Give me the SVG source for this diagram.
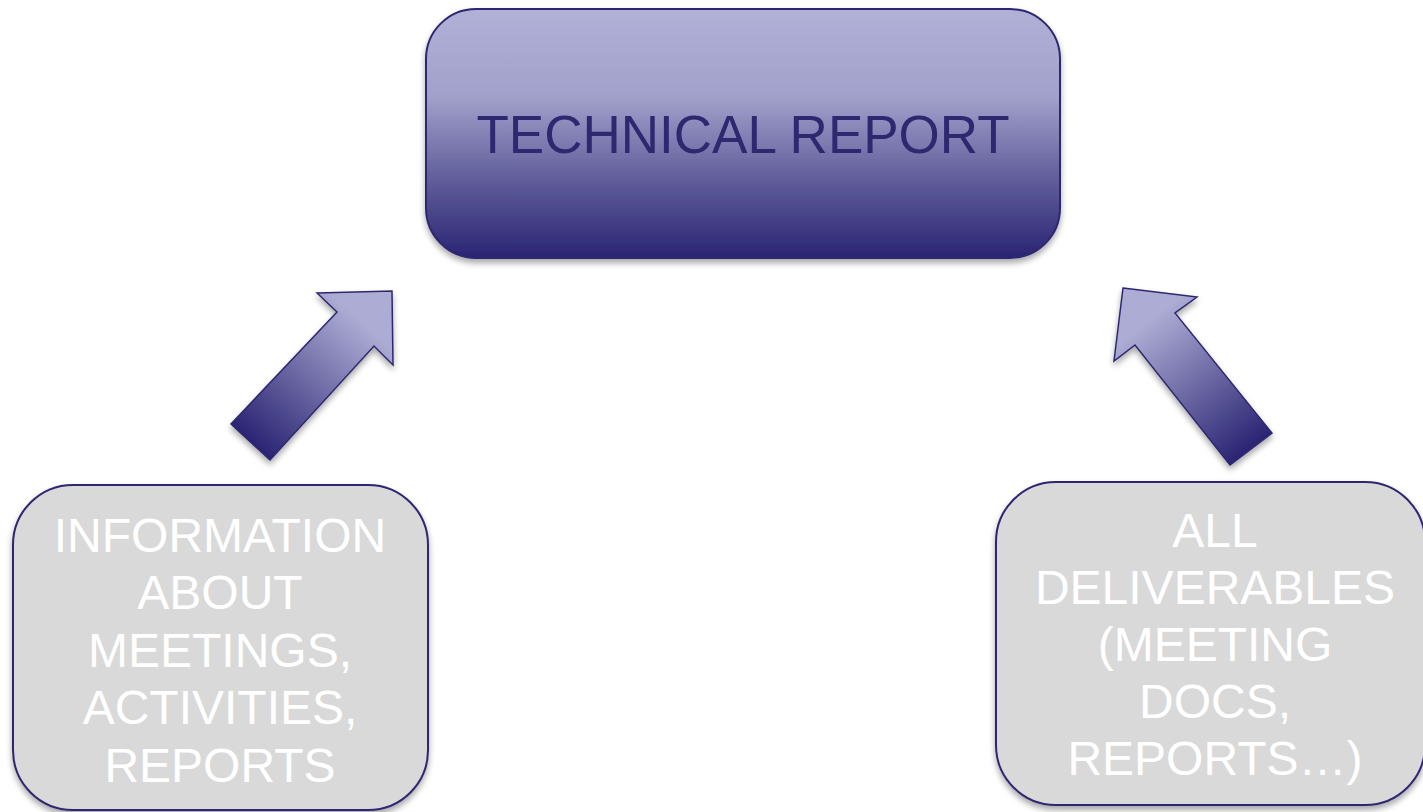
<svg xmlns="http://www.w3.org/2000/svg" width="1423" height="812" viewBox="0 0 1423 812">
<defs>
<linearGradient id="gTop" x1="0" y1="0" x2="0" y2="1">
<stop offset="0" stop-color="#b1b0d7"/>
<stop offset="0.35" stop-color="#a2a1cb"/>
<stop offset="0.65" stop-color="#67649f"/>
<stop offset="1" stop-color="#2a2473"/>
</linearGradient>
<linearGradient id="gArrL" gradientUnits="userSpaceOnUse" x1="250" y1="442" x2="360" y2="320">
<stop offset="0" stop-color="#2a2473"/>
<stop offset="1" stop-color="#adacd4"/>
</linearGradient>
<linearGradient id="gArrR" gradientUnits="userSpaceOnUse" x1="1251" y1="449" x2="1150" y2="320">
<stop offset="0" stop-color="#2a2473"/>
<stop offset="1" stop-color="#adacd4"/>
</linearGradient>
<filter id="sh" x="-10%" y="-10%" width="120%" height="125%">
<feGaussianBlur in="SourceAlpha" stdDeviation="3"/>
<feOffset dx="0" dy="4" result="b"/>
<feComponentTransfer><feFuncA type="linear" slope="0.35"/></feComponentTransfer>
<feMerge><feMergeNode/><feMergeNode in="SourceGraphic"/></feMerge>
</filter>
</defs>
<style>
.box{stroke:#2e2870;stroke-width:2;}
.grey{fill:#d9d9d9;}
.arr{stroke:#2e2870;stroke-width:1.5;stroke-linejoin:miter;}
.lbl{font-family:"Liberation Sans",Arial,sans-serif;text-anchor:middle;}
.wt{fill:#ffffff;font-size:48px;}
.tt{fill:#2e2870;font-size:53px;}
</style>
<rect width="1423" height="812" fill="#ffffff"/>
<g id="connectors">
<polygon class="arr" fill="url(#gArrL)" filter="url(#sh)" points="317,293 392,291 393,365 374,346 270,460 231,424 337,312"/>
<polygon class="arr" fill="url(#gArrR)" filter="url(#sh)" points="1123,288 1197,297 1175,313 1272,433 1230,465 1135,345 1114,361"/>
</g>
<g id="technical-report">
<rect class="box" x="426" y="9" width="634" height="249" rx="50" ry="50" fill="url(#gTop)" filter="url(#sh)"/>
<text class="lbl tt" x="743" y="153">TECHNICAL REPORT</text>
</g>
<g id="information">
<rect class="box grey" x="13" y="485" width="415" height="325" rx="60" ry="60" filter="url(#sh)"/>
<text class="lbl wt" x="220" y="552">INFORMATION</text>
<text class="lbl wt" x="220" y="609">ABOUT</text>
<text class="lbl wt" x="220" y="667">MEETINGS,</text>
<text class="lbl wt" x="220" y="724">ACTIVITIES,</text>
<text class="lbl wt" x="220" y="782">REPORTS</text>
</g>
<g id="deliverables">
<rect class="box grey" x="996" y="482" width="429" height="323" rx="60" ry="60" filter="url(#sh)"/>
<text class="lbl wt" x="1215" y="547">ALL</text>
<text class="lbl wt" x="1215" y="604">DELIVERABLES</text>
<text class="lbl wt" x="1215" y="661">(MEETING</text>
<text class="lbl wt" x="1215" y="718">DOCS,</text>
<text class="lbl wt" x="1215" y="775">REPORTS…)</text>
</g>
</svg>
